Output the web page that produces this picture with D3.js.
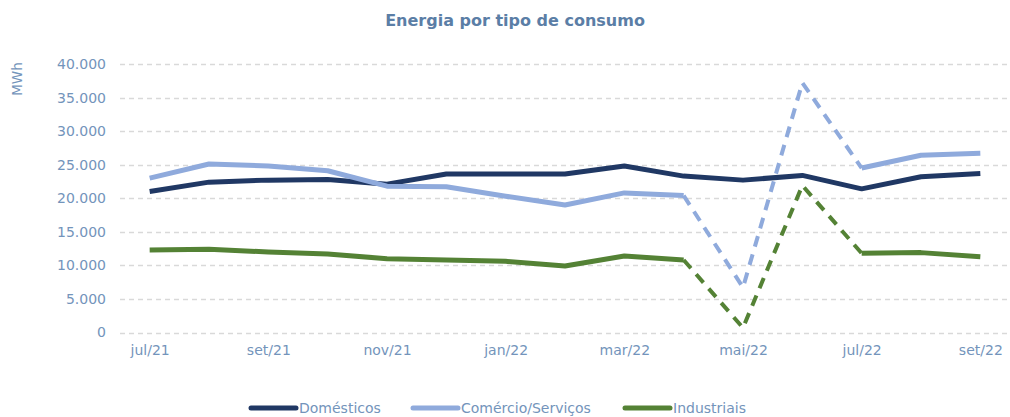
<!DOCTYPE html>
<html lang="pt">
<head>
<meta charset="utf-8">
<title>Energia por tipo de consumo</title>
<script src="https://d3js.org/d3.v7.min.js"></script>
<style>
  body { margin: 0; background: #fff; }
  text { font-family: "DejaVu Sans", sans-serif; }
</style>
</head>
<body>
<script>
// months (x categories)
const months = ["jul/21", "ago/21", "set/21", "out/21", "nov/21", "dez/21", "jan/22", "fev/22",
  "mar/22", "abr/22", "mai/22", "jun/22", "jul/22", "ago/22", "set/22"];
const shownTicks = ["jul/21", "set/21", "nov/21", "jan/22", "mar/22", "mai/22", "jul/22", "set/22"];

// MWh per month
const domesticos = [21000, 22400, 22700, 22800, 22100, 23600, 23600, 23600, 24800, 23300, 22700, 23400, 21400, 23200, 23700];
const comercio = [23000, 25100, 24800, 24100, 21800, 21700, 20300, 19000, 20800, 20400, 6700, 37200, 24500, 26400, 26700];
const industriais = [12300, 12400, 12000, 11700, 11000, 10800, 10600, 9900, 11400, 10800, 700, 21900, 11800, 11900, 11300];

// months estimated (drawn dashed)
const estStart = "abr/22", estEnd = "jul/22";

const yTicks = [0, 5000, 10000, 15000, 20000, 25000, 30000, 35000, 40000];

const series = [
  { name: "Domésticos", values: domesticos, color: "#203864", dashEst: false },
  { name: "Comércio/Serviços", values: comercio, color: "#8faadc", dashEst: true },
  { name: "Industriais", values: industriais, color: "#548235", dashEst: true }
];

const W = 1010, H = 417;
const margin = { top: 64, right: 0, bottom: 84, left: 120 };

const svg = d3.select("body").append("svg")
  .attr("width", W)
  .attr("height", H);

const x = d3.scalePoint()
  .domain(months)
  .range([margin.left, W - margin.right])
  .padding(0.5);

const y = d3.scaleLinear()
  .domain([0, 40000])
  .range([H - margin.bottom - 0.5, margin.top]);

const fmt = d => d3.format(",")(d).replace(/,/g, ".");
const textColor = "#7394bb";

// title
svg.append("text")
  .attr("x", 515)
  .attr("y", 26)
  .attr("text-anchor", "middle")
  .attr("font-size", 16)
  .attr("font-weight", "bold")
  .attr("fill", "#5b7ea6")
  .text("Energia por tipo de consumo");

// y axis title
svg.append("text")
  .attr("transform", "translate(22,79) rotate(-90)")
  .attr("text-anchor", "middle")
  .attr("font-size", 13.5)
  .attr("fill", textColor)
  .text("MWh");

// grid
svg.append("g")
  .selectAll("line")
  .data(yTicks)
  .join("line")
  .attr("x1", margin.left)
  .attr("x2", W)
  .attr("y1", d => Math.round(y(d)) + 0.5)
  .attr("y2", d => Math.round(y(d)) + 0.5)
  .attr("stroke", "#d9d9d9")
  .attr("stroke-width", 1.3)
  .attr("stroke-dasharray", "5,4");

// y axis labels
const yAxis = svg.append("g")
  .attr("transform", `translate(${margin.left},0)`)
  .call(d3.axisLeft(y).tickValues(yTicks).tickFormat(fmt).tickSize(0).tickPadding(14));
yAxis.select(".domain").remove();
yAxis.selectAll("text").attr("font-size", 14).attr("fill", textColor).attr("font-family", "'DejaVu Sans', sans-serif");

// x axis labels
const xAxis = svg.append("g")
  .attr("transform", `translate(0,${y(0)})`)
  .call(d3.axisBottom(x).tickValues(shownTicks).tickSize(0).tickPadding(13));
xAxis.select(".domain").remove();
xAxis.selectAll("text").attr("font-size", 14).attr("fill", textColor).attr("font-family", "'DejaVu Sans', sans-serif");

// lines
const line = d3.line()
  .x(d => x(d.m))
  .y(d => y(d.v));

const i0 = months.indexOf(estStart), i1 = months.indexOf(estEnd);

series.forEach(s => {
  const pts = s.values.map((v, i) => ({ m: months[i], v: v }));
  if (s.dashEst) {
    const before = pts.slice(0, i0 + 1);
    const est = pts.slice(i0, i1 + 1);
    const after = pts.slice(i1);
    [before, after].forEach(p => {
      svg.append("path")
        .attr("d", line(p))
        .attr("fill", "none")
        .attr("stroke", s.color)
        .attr("stroke-width", 5)
        .attr("stroke-linejoin", "round");
    });
    svg.append("path")
      .attr("d", line(est))
      .attr("fill", "none")
      .attr("stroke", s.color)
      .attr("stroke-width", 4)
      .attr("stroke-dasharray", "11,8");
  } else {
    svg.append("path")
      .attr("d", line(pts))
      .attr("fill", "none")
      .attr("stroke", s.color)
      .attr("stroke-width", 5)
      .attr("stroke-linejoin", "round");
  }
});

// legend
const legendX = [248, 410, 622];
const legend = svg.append("g")
  .selectAll("g")
  .data(series)
  .join("g")
  .attr("transform", (d, i) => `translate(${legendX[i]},408)`);

legend.append("line")
  .attr("x1", 3).attr("x2", 48)
  .attr("stroke", d => d.color)
  .attr("stroke-width", 5)
  .attr("stroke-linecap", "round");

legend.append("text")
  .attr("x", 51)
  .attr("y", 5)
  .attr("font-size", 14)
  .attr("fill", textColor)
  .text(d => d.name);
</script>
</body>
</html>
